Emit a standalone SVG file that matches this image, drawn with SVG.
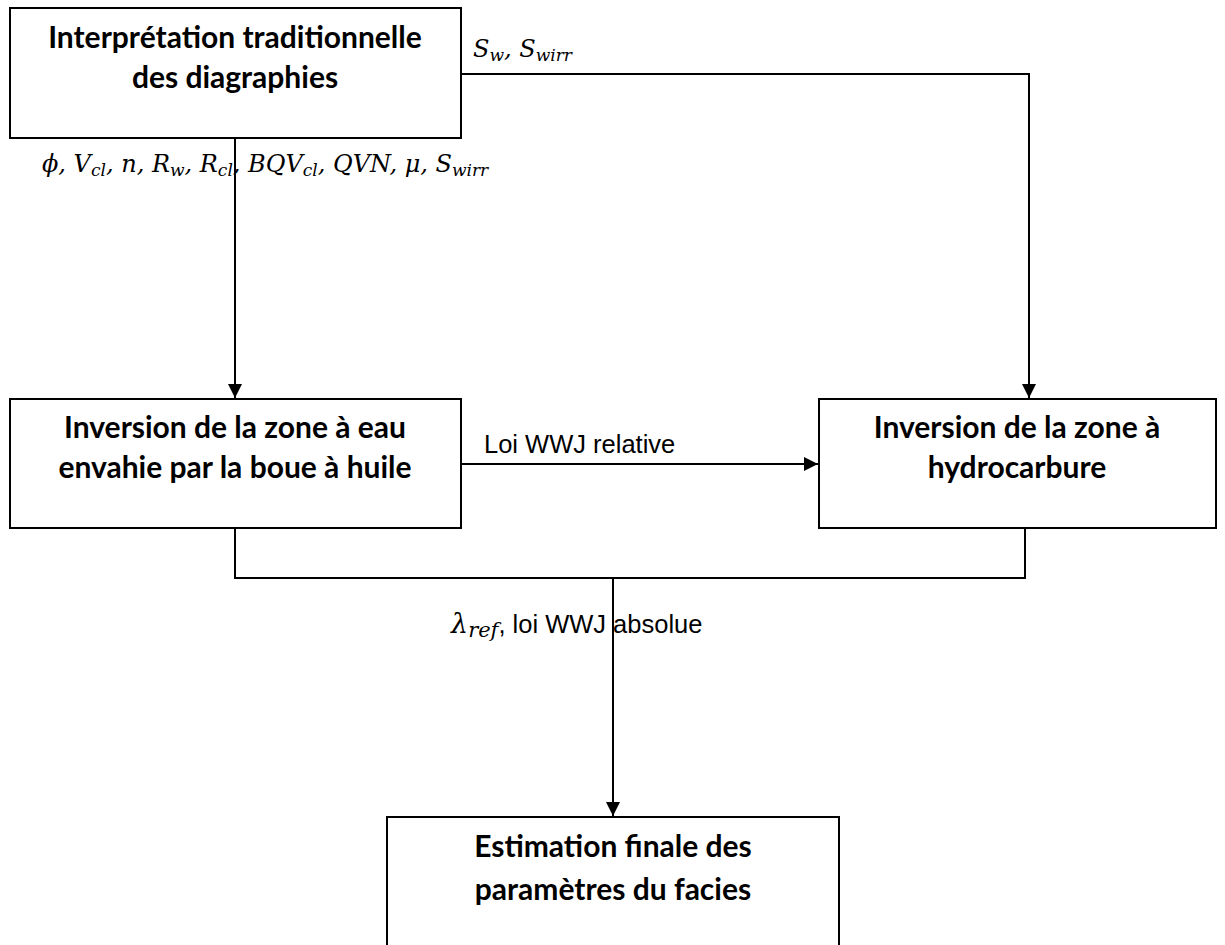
<svg xmlns="http://www.w3.org/2000/svg" width="1225" height="945" viewBox="0 0 1225 945">
<style>
.box{fill:#fff;stroke:#000;stroke-width:2}
.t{font-family:Lato,"Liberation Sans",sans-serif;font-weight:bold;font-size:30px;text-anchor:middle;fill:#000}
.c{fill:none;stroke:#000;stroke-width:2}
.m{font-family:"DejaVu Serif","Liberation Serif",serif;font-style:italic;font-size:24px;fill:#000}
.s{font-size:17px}
.l{font-family:"Liberation Sans",sans-serif;font-size:25.5px;fill:#000}
</style>
<defs>
<marker id="ah" markerWidth="14" markerHeight="14" refX="14" refY="7" orient="auto" markerUnits="userSpaceOnUse">
<path d="M0,0 L14,7 L0,14 Z" fill="#000"/>
</marker>
</defs>
<g id="connectors">
<path class="c" d="M235,138 V398" marker-end="url(#ah)"/>
<path class="c" d="M461,74 H1029 V398" marker-end="url(#ah)"/>
<path class="c" d="M461,464 H818" marker-end="url(#ah)"/>
<path class="c" d="M235,528 V578 H1025 V528"/>
<path class="c" d="M613,578 V816" marker-end="url(#ah)"/>
<text class="m" x="42" y="172">ϕ, V<tspan class="s" dy="4">cl</tspan><tspan dy="-4">, n, R</tspan><tspan class="s" dy="4">w</tspan><tspan dy="-4">, R</tspan><tspan class="s" dy="4">cl</tspan><tspan dy="-4">, BQV</tspan><tspan class="s" dy="4">cl</tspan><tspan dy="-4">, QVN, μ, S</tspan><tspan class="s" dy="4">wirr</tspan></text>
<text class="m" x="473" y="57">S<tspan class="s" dy="4">w</tspan><tspan dy="-4">, S</tspan><tspan class="s" dy="4">wirr</tspan></text>
<text class="l" x="484" y="453">Loi WWJ relative</text>
<text x="451" y="633"><tspan class="m" style="font-size:27px">λ</tspan><tspan class="m" style="font-size:21px" dy="4">ref</tspan><tspan class="l" dy="-4">, loi WWJ absolue</tspan></text>
</g>
<g id="n1">
<rect class="box" x="10" y="8" width="451" height="130"/>
<text class="t" x="235" y="48">Interprétation traditionnelle</text>
<text class="t" x="235" y="88">des diagraphies</text>
</g>
<g id="n2">
<rect class="box" x="10" y="399" width="451" height="129"/>
<text class="t" x="235" y="438">Inversion de la zone à eau</text>
<text class="t" x="235" y="478">envahie par la boue à huile</text>
</g>
<g id="n3">
<rect class="box" x="819" y="399" width="397" height="129"/>
<text class="t" x="1017" y="438">Inversion de la zone à</text>
<text class="t" x="1017" y="478">hydrocarbure</text>
</g>
<g id="n4">
<rect class="box" x="387" y="817" width="452" height="140"/>
<text class="t" x="613" y="857">Estimation finale des</text>
<text class="t" x="613" y="900">paramètres du facies</text>
</g>
</svg>
